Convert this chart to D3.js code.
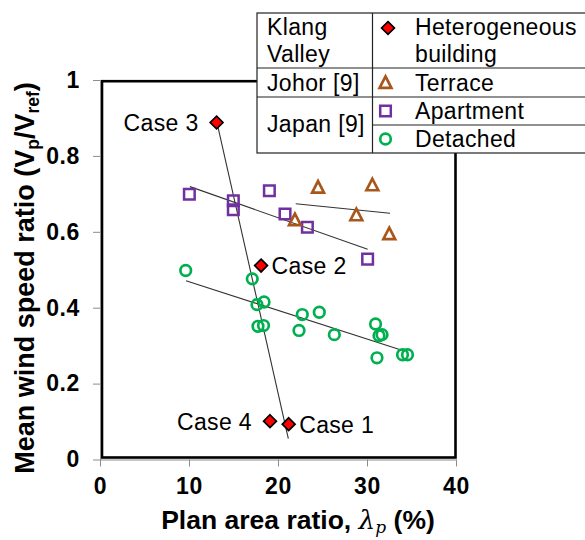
<!DOCTYPE html>
<html>
<head>
<meta charset="utf-8">
<script src="https://cdn.jsdelivr.net/npm/d3@7"></script>
<style>
  html, body { margin: 0; padding: 0; background: #fff; }
  svg { display: block; font-family: "Liberation Sans", Arial, sans-serif; }
</style>
</head>
<body>
<svg id="chart" width="585" height="540"></svg>
<script>
// ---------------- data ----------------
const xTicks = [0, 10, 20, 30, 40];
const yTicks = [0, 0.2, 0.4, 0.6, 0.8, 1];
const yTickLabels = ["0", "0.2", "0.4", "0.6", "0.8", "1"];

const heteroCases = ["Case 3", "Case 2", "Case 4", "Case 1"];
const heteroX = [13.1, 18.1, 19.1, 21.2];
const heteroY = [0.888, 0.511, 0.101, 0.093];
const heteroLabelSide = ["left", "right", "left", "right"];

const terraceX = [24.5, 30.6, 28.8, 21.9, 32.5];
const terraceY = [0.715, 0.721, 0.642, 0.629, 0.592];

const apartmentX = [10.04, 14.98, 14.98, 19.03, 20.79, 23.3, 30.07];
const apartmentY = [0.699, 0.682, 0.658, 0.708, 0.647, 0.612, 0.528];

const detachedX = [9.63, 17.11, 17.64, 18.43, 17.75, 18.37, 22.73, 24.64, 22.36, 26.33, 30.96, 31.35, 31.69, 31.12, 33.99, 34.55];
const detachedY = [0.498, 0.476, 0.408, 0.415, 0.351, 0.353, 0.382, 0.388, 0.340, 0.329, 0.357, 0.326, 0.329, 0.268, 0.276, 0.276];

// trend lines: [x0, y0, x1, y1]
const trendHetero = [13.2, 0.882, 21.16, 0.055];
const trendApartment = [10.1, 0.719, 30.07, 0.554];
const trendTerrace = [21.99, 0.674, 32.58, 0.649];
const trendDetached = [9.66, 0.471, 34.27, 0.285];

const legendGroups = [["Klang", "Valley"], ["Johor [9]"], ["Japan [9]"]];
const legendSeries = [["Heterogeneous", "building"], ["Terrace"], ["Apartment"], ["Detached"]];

// ---------------- drawing ----------------
const svg = d3.select("#chart");
const x = d3.scaleLinear().domain([0, 40]).range([100, 456]);
const y = d3.scaleLinear().domain([0, 1]).range([459.5, 80]);

const C = { red: "#ff0000", purple: "#7030a0", brown: "#a9561b", green: "#00b050", axis: "#8c8c8c" };
const FS = 23;
const LS = 0.35;

// plot frame (thick black)
svg.append("rect")
  .attr("x", 102).attr("y", 81.2).attr("width", 353.5).attr("height", 376.3)
  .attr("fill", "none").attr("stroke", "#000").attr("stroke-width", 2.6);

// axes
const gx = svg.append("g").attr("transform", `translate(0,${y(0)})`)
  .call(d3.axisBottom(x).tickValues(xTicks).tickSizeInner(7).tickSizeOuter(0).tickPadding(11).tickFormat(d3.format("d")));
const gy = svg.append("g").attr("transform", `translate(${x(0)},0)`)
  .call(d3.axisLeft(y).tickValues(yTicks).tickSizeInner(7).tickSizeOuter(0).tickPadding(13)
    .tickFormat((d, i) => yTickLabels[i]));
[gx, gy].forEach(g => {
  g.select(".domain").attr("stroke", C.axis).attr("stroke-width", 1);
  g.selectAll(".tick line").attr("stroke", C.axis).attr("stroke-width", 1);
  g.selectAll(".tick text").attr("fill", "#000").attr("font-size", FS).attr("font-weight", "bold")
    .attr("font-family", "Liberation Sans, Arial, sans-serif").attr("letter-spacing", 0.6);
});

// trend lines
const trends = [trendHetero, trendApartment, trendTerrace, trendDetached];
svg.append("g").selectAll("line").data(trends).join("line")
  .attr("x1", d => x(d[0])).attr("y1", d => y(d[1]))
  .attr("x2", d => x(d[2])).attr("y2", d => y(d[3]))
  .attr("stroke", "#333").attr("stroke-width", 1.1);

// marker paths
const sq = s => `M${-s},${-s}H${s}V${s}H${-s}Z`;
const tri = (w, h) => `M0,${-h * 0.62}L${w},${h * 0.38}L${-w},${h * 0.38}Z`;
const dia = s => `M0,${-s}L${s},0L0,${s}L${-s},0Z`;

function drawTriangle(g, cx, cy) {
  g.append("path").attr("d", tri(5.9, 11.5)).attr("transform", `translate(${cx},${cy})`)
    .attr("fill", "none").attr("stroke", C.brown).attr("stroke-width", 2.7).attr("stroke-linejoin", "miter");
}
function drawSquare(g, cx, cy) {
  g.append("path").attr("d", sq(5.3)).attr("transform", `translate(${cx},${cy})`)
    .attr("fill", "none").attr("stroke", C.purple).attr("stroke-width", 2.5);
}
function drawCircle(g, cx, cy) {
  g.append("circle").attr("cx", cx).attr("cy", cy).attr("r", 5.3)
    .attr("fill", "none").attr("stroke", C.green).attr("stroke-width", 2.7);
}
function drawDiamond(g, cx, cy) {
  g.append("path").attr("d", dia(6.4)).attr("transform", `translate(${cx},${cy})`)
    .attr("fill", C.red).attr("stroke", "#000").attr("stroke-width", 1.7).attr("stroke-linejoin", "miter");
}

const gm = svg.append("g");
detachedX.forEach((v, i) => drawCircle(gm, x(v), y(detachedY[i])));
apartmentX.forEach((v, i) => drawSquare(gm, x(v), y(apartmentY[i])));
terraceX.forEach((v, i) => drawTriangle(gm, x(v), y(terraceY[i])));
heteroX.forEach((v, i) => drawDiamond(gm, x(v), y(heteroY[i])));

// case labels
svg.append("g").selectAll("text").data(heteroCases).join("text")
  .attr("x", (d, i) => heteroLabelSide[i] === "left" ? x(heteroX[i]) - 18 : x(heteroX[i]) + 10.5)
  .attr("y", (d, i) => y(heteroY[i]) + 8.5)
  .attr("text-anchor", (d, i) => heteroLabelSide[i] === "left" ? "end" : "start")
  .attr("font-size", FS).attr("letter-spacing", LS).attr("fill", "#000")
  .text(d => d);

// legend table
const L = { x0: 257, x1: 372.5, x2: 600, rows: [13, 68, 97, 125, 153] };
const lg = svg.append("g");
lg.append("rect").attr("x", L.x0).attr("y", L.rows[0]).attr("width", L.x2 - L.x0).attr("height", L.rows[4] - L.rows[0])
  .attr("fill", "#fff").attr("stroke", "#222").attr("stroke-width", 1.2);
lg.append("line").attr("x1", L.x1).attr("x2", L.x1).attr("y1", L.rows[0]).attr("y2", L.rows[4]).attr("stroke", "#222").attr("stroke-width", 1.2);
lg.append("line").attr("x1", L.x0).attr("x2", L.x2).attr("y1", L.rows[1]).attr("y2", L.rows[1]).attr("stroke", "#222").attr("stroke-width", 1.2);
lg.append("line").attr("x1", L.x0).attr("x2", L.x2).attr("y1", L.rows[2]).attr("y2", L.rows[2]).attr("stroke", "#222").attr("stroke-width", 1.2);
lg.append("line").attr("x1", L.x1).attr("x2", L.x2).attr("y1", L.rows[3]).attr("y2", L.rows[3]).attr("stroke", "#222").attr("stroke-width", 1.2);

// left column text
const groupBaselines = [[35, 62], [90.5], [132]];
legendGroups.forEach((lines, gi) => {
  lines.forEach((t, li) => {
    lg.append("text").attr("x", 267).attr("y", groupBaselines[gi][li]).attr("font-size", FS)
      .attr("letter-spacing", LS).attr("fill", "#000").text(t);
  });
});
// right column
const seriesBaselines = [[35, 62], [90.5], [118.5], [146.5]];
const markerY = [28, 83.5, 111, 139];
const markerFns = [drawDiamond, drawTriangle, drawSquare, drawCircle];
legendSeries.forEach((lines, si) => {
  markerFns[si](lg, si === 0 ? 388 : 385.5, markerY[si]);
  lines.forEach((t, li) => {
    lg.append("text").attr("x", 415).attr("y", seriesBaselines[si][li]).attr("font-size", FS)
      .attr("letter-spacing", LS).attr("fill", "#000").text(t);
  });
});

// axis titles
const xt = svg.append("text").attr("x", 298).attr("y", 529).attr("text-anchor", "middle")
  .attr("font-size", 26.5).attr("font-weight", "bold").attr("fill", "#000");
xt.append("tspan").text("Plan area ratio, ");
xt.append("tspan").attr("font-family", "DejaVu Serif, serif").attr("font-style", "italic").attr("font-weight", "normal").text("λ");
xt.append("tspan").attr("font-family", "DejaVu Serif, serif").attr("font-style", "italic").attr("font-weight", "normal")
  .attr("font-size", 17).attr("dy", 4).text("p");
xt.append("tspan").attr("dy", -4).text(" (%)");

const yt = svg.append("text").attr("transform", "translate(34,278) rotate(-90)").attr("text-anchor", "middle")
  .attr("font-size", 27).attr("font-weight", "bold").attr("fill", "#000");
yt.append("tspan").text("Mean wind speed ratio (V");
yt.append("tspan").attr("font-size", 17.5).attr("dy", 5).text("p");
yt.append("tspan").attr("dy", -5).text("/V");
yt.append("tspan").attr("font-size", 17.5).attr("dy", 5).text("ref");
yt.append("tspan").attr("dy", -5).text(")");
</script>
</body>
</html>
